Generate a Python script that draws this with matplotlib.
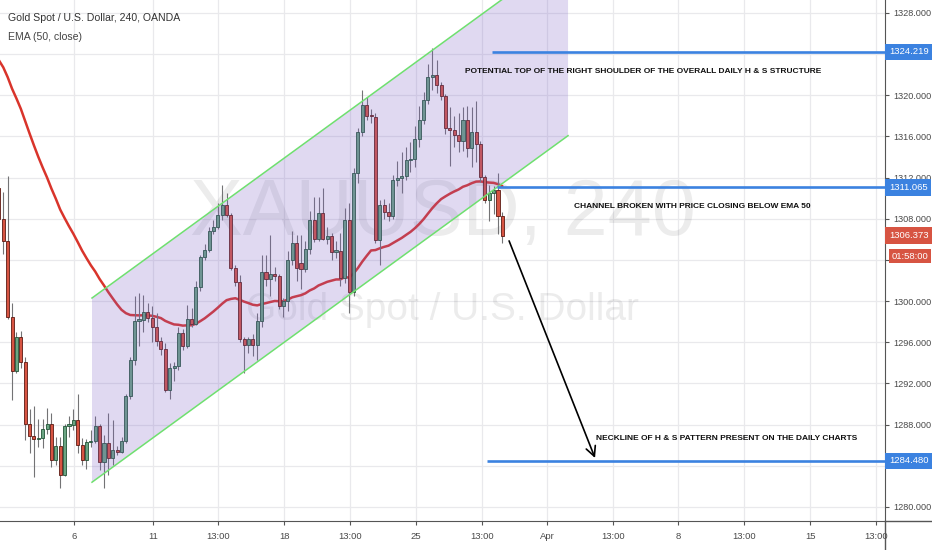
import numpy as np
import matplotlib
matplotlib.use('Agg')
import matplotlib.pyplot as plt
from matplotlib.patches import Polygon, FancyArrowPatch
from matplotlib.lines import Line2D
from matplotlib.transforms import blended_transform_factory
from matplotlib import font_manager

names = {f.name for f in font_manager.fontManager.ttflist}
NARROW = 'Liberation Sans Narrow' if 'Liberation Sans Narrow' in names else 'Liberation Sans'
plt.rcParams['font.family'] = [NARROW, 'DejaVu Sans']

# ---------------- data (4h candles, XAUUSD) ----------------
opens = [1311.0, 1308.0, 1305.8, 1298.5, 1293.2, 1296.5, 1294.1, 1288.1, 1286.9, 1286.6,
         1286.7, 1287.6, 1288.1, 1284.6, 1285.9, 1283.1, 1287.9, 1288.0, 1288.4, 1286.0,
         1284.6, 1286.3, 1286.4, 1287.9, 1284.4, 1286.2, 1284.8, 1285.5, 1285.3, 1286.4,
         1290.8, 1294.3, 1298.1, 1298.2, 1298.9, 1298.4, 1297.5, 1296.1, 1295.3, 1291.4,
         1293.5, 1293.7, 1296.9, 1295.6, 1298.3, 1297.8, 1301.4, 1304.3, 1305.0, 1306.8,
         1307.2, 1308.4, 1309.3, 1308.4, 1303.2, 1301.9, 1296.3, 1295.7, 1296.3, 1295.7,
         1298.1, 1302.8, 1302.1, 1302.6, 1302.4, 1299.5, 1300.0, 1304.0, 1305.6, 1303.7,
         1303.1, 1305.1, 1307.9, 1306.0, 1308.6, 1306.0, 1306.3, 1304.8, 1304.9, 1302.2,
         1307.9, 1300.9, 1312.4, 1316.4, 1319.1, 1318.0, 1317.9, 1305.9, 1309.3, 1308.7,
         1308.3, 1311.8, 1311.95, 1312.2, 1313.7, 1313.8, 1315.8, 1317.6, 1319.5, 1321.8,
         1322.0, 1321.0, 1319.9, 1316.8, 1316.6, 1316.1, 1315.6, 1317.6, 1314.85, 1316.4,
         1315.3, 1312.1, 1309.8, 1310.5, 1310.8, 1308.3]
highs = [1311.8, 1310.6, 1312.2, 1299.8, 1297.0, 1297.1, 1294.6, 1289.5, 1289.8, 1288.5,
         1288.5, 1289.6, 1289.1, 1286.8, 1286.8, 1288.1, 1288.8, 1289.5, 1291.0, 1286.7,
         1286.6, 1287.5, 1288.8, 1288.1, 1287.0, 1289.1, 1288.4, 1285.9, 1286.8, 1291.0,
         1294.6, 1300.5, 1300.8, 1300.6, 1299.8, 1299.5, 1298.8, 1296.5, 1295.9, 1294.0,
         1294.1, 1297.5, 1297.3, 1299.6, 1299.3, 1302.0, 1304.5, 1305.5, 1307.2, 1307.9,
         1309.5, 1311.3, 1310.5, 1308.6, 1303.5, 1302.5, 1296.5, 1296.5, 1296.8, 1298.8,
         1304.5, 1304.5, 1306.4, 1303.3, 1302.6, 1300.3, 1304.9, 1306.8, 1306.4, 1306.4,
         1305.8, 1308.8, 1310.1, 1310.1, 1311.0, 1307.2, 1306.6, 1305.8, 1306.6, 1309.0,
         1309.5, 1312.9, 1316.8, 1320.5, 1319.8, 1318.7, 1318.3, 1309.8, 1309.9, 1309.5,
         1312.3, 1313.6, 1314.5, 1315.0, 1315.5, 1317.0, 1319.0, 1320.3, 1323.0, 1324.6,
         1323.4, 1321.3, 1320.1, 1318.9, 1318.0, 1318.3, 1318.9, 1319.0, 1318.9, 1319.4,
         1315.6, 1312.3, 1311.3, 1311.2, 1312.4, 1308.7]
lows = [1306.0, 1304.6, 1298.3, 1290.4, 1293.0, 1293.5, 1286.5, 1285.2, 1282.9, 1285.8,
        1285.7, 1287.1, 1283.9, 1284.1, 1281.8, 1283.0, 1286.8, 1287.5, 1285.2, 1284.1,
        1283.7, 1285.8, 1286.2, 1283.6, 1281.8, 1283.1, 1284.1, 1285.0, 1285.2, 1286.2,
        1290.5, 1293.8, 1295.6, 1297.0, 1298.0, 1296.0, 1295.6, 1294.8, 1291.2, 1290.5,
        1292.2, 1293.3, 1295.2, 1295.4, 1297.5, 1297.7, 1301.0, 1304.0, 1304.8, 1306.5,
        1307.0, 1307.9, 1308.2, 1303.0, 1301.5, 1296.0, 1293.0, 1295.0, 1294.7, 1294.3,
        1297.5, 1301.5, 1300.5, 1302.0, 1299.2, 1298.5, 1299.0, 1303.5, 1302.0, 1301.2,
        1302.8, 1304.6, 1305.7, 1305.8, 1305.9, 1305.5, 1304.0, 1304.2, 1301.5, 1301.8,
        1298.8, 1300.5, 1311.5, 1316.0, 1317.6, 1317.3, 1305.6, 1303.5, 1308.0, 1307.8,
        1308.0, 1311.2, 1310.5, 1311.8, 1312.5, 1313.0, 1315.0, 1317.2, 1319.2, 1320.5,
        1320.2, 1319.5, 1316.2, 1313.1, 1315.0, 1314.5, 1314.6, 1314.0, 1313.0, 1313.5,
        1311.6, 1309.5, 1307.8, 1308.5, 1306.5, 1305.6]
closes = [1308.0, 1305.8, 1298.5, 1293.2, 1296.5, 1294.1, 1288.1, 1286.9, 1286.6, 1286.7,
          1287.6, 1288.1, 1284.6, 1285.9, 1283.1, 1287.9, 1288.0, 1288.4, 1286.0, 1284.6,
          1286.3, 1286.4, 1287.9, 1284.4, 1286.2, 1284.8, 1285.5, 1285.3, 1286.4, 1290.8,
          1294.3, 1298.1, 1298.2, 1298.9, 1298.4, 1297.5, 1296.1, 1295.3, 1291.4, 1293.5,
          1293.7, 1296.9, 1295.6, 1298.3, 1297.8, 1301.4, 1304.3, 1305.0, 1306.8, 1307.2,
          1308.4, 1309.3, 1308.4, 1303.2, 1301.9, 1296.3, 1295.7, 1296.3, 1295.7, 1298.1,
          1302.8, 1302.1, 1302.6, 1302.4, 1299.5, 1300.0, 1304.0, 1305.6, 1303.2, 1303.1,
          1305.1, 1307.9, 1306.0, 1308.6, 1306.0, 1306.3, 1304.8, 1304.9, 1302.2, 1307.9,
          1300.9, 1312.4, 1316.4, 1319.1, 1318.0, 1317.9, 1305.9, 1309.3, 1308.7, 1308.3,
          1311.8, 1311.95, 1312.2, 1313.7, 1313.8, 1315.8, 1317.6, 1319.5, 1321.8, 1322.0,
          1321.0, 1319.9, 1316.8, 1316.6, 1316.1, 1315.6, 1317.6, 1314.85, 1316.4, 1315.3,
          1312.1, 1309.8, 1310.5, 1310.8, 1308.3, 1306.373]
ema_period = 50
ema_start = 1323.4          # EMA value at the first (partially visible) bar

x_tick_pos = [17.2, 35.2, 50.1, 65.2, 80.3, 95.3, 110.3, 125.2, 140.2, 155.2, 170.2, 185.3, 200.3]
x_tick_labels = ['6', '11', '13:00', '18', '13:00', '25', '13:00', 'Apr', '13:00', '8', '13:00', '15', '13:00']
y_ticks = list(range(1280, 1329, 4))

# drawings
channel_x = [21.26, 130.0]
channel_top_start = 1300.3
channel_bot_start = 1282.4
channel_slope = 0.3097      # price per bar
h_levels = [1324.219, 1311.065, 1284.480]
h_starts = [112.6, 113.8, 111.5]
arrow_from = (116.3, 1306.1)
arrow_to = (136.4, 1284.5)
last_price = 1306.373
countdown = '01:58:00'
notes = [
    (106.5, 1322.36, 'POTENTIAL TOP OF THE RIGHT SHOULDER OF THE OVERALL DAILY H & S STRUCTURE'),
    (131.3, 1309.15, 'CHANNEL BROKEN WITH PRICE CLOSING BELOW EMA 50'),
    (136.3, 1286.6, 'NECKLINE OF H & S PATTERN PRESENT ON THE DAILY CHARTS'),
]

# ---------------- figure ----------------
W, H = 932, 550
fig = plt.figure(figsize=(W / 100, H / 100), dpi=100)
fig.patch.set_facecolor('white')
ax = fig.add_axes([0, 29 / H, 885 / W, 521 / H])
ax.set_facecolor('white')
ax.set_xlim(0.246, 202.4)
ax.set_ylim(1278.63, 1329.26)

o = np.array(opens); h = np.array(highs); l = np.array(lows); c = np.array(closes)
x = np.arange(len(o))

# grid
for t in x_tick_pos:
    ax.axvline(t, color='#e9e9ec', lw=0.9, zorder=0)
for t in y_ticks:
    ax.axhline(t, color='#e9e9ec', lw=0.9, zorder=0)

# watermark
ax.text(0.5, 0.588, 'XAUUSD, 240', transform=ax.transAxes, ha='center', va='center',
        fontsize=57, color='#000000', alpha=0.075, zorder=0.5)
ax.text(0.5, 0.405, 'Gold Spot / U.S. Dollar', transform=ax.transAxes, ha='center', va='center',
        fontsize=28, color='#000000', alpha=0.075, zorder=0.5)

# EMA 50 computed from closes
ema = np.empty(len(c))
ema[0] = ema_start
alpha = 2.0 / (ema_period + 1)
for i in range(1, len(c)):
    ema[i] = ema[i - 1] + alpha * (c[i] - ema[i - 1])
ax.plot(x, ema, color='#d9342b', lw=1.8, zorder=2, solid_capstyle='round')

# candles
up = c >= o
ax.vlines(x, l, h, color='#737375', lw=0.8, zorder=3)
body = np.where(np.abs(c - o) < 0.12, 0.12, c - o)
ax.bar(x[up], body[up], bottom=o[up], width=0.7, color='#6ba583', edgecolor='#225437', lw=0.6, zorder=4)
ax.bar(x[~up], body[~up], bottom=o[~up], width=0.7, color='#d75442', edgecolor='#5b1a13', lw=0.6, zorder=4)

# parallel channel
x0, x1 = channel_x
dx = x1 - x0
t0, b0 = channel_top_start, channel_bot_start
t1, b1 = t0 + channel_slope * dx, b0 + channel_slope * dx
ax.add_patch(Polygon([(x0, t0), (x1, t1), (x1, b1), (x0, b0)], closed=True,
                     facecolor='#7e62c8', alpha=0.24, edgecolor='none', zorder=5))
ax.plot([x0, x1], [t0, t1], color='#6fe06f', lw=1.1, zorder=6)
ax.plot([x0, x1], [b0, b1], color='#6fe06f', lw=1.1, zorder=6)

# horizontal levels
for lv, st in zip(h_levels, h_starts):
    ax.plot([st, 203], [lv, lv], color='#3b82e0', lw=1.9, zorder=6, solid_capstyle='butt')

# arrow
ax.add_patch(FancyArrowPatch(arrow_from, arrow_to, arrowstyle='->,head_length=0.7,head_width=0.35',
                             mutation_scale=10, lw=1.2, color='black', zorder=7))

for nx, ny, txt in notes:
    ax.text(nx, ny, txt, ha='left', va='center', fontsize=6.0, fontweight='bold', color='#111111', zorder=8)

# axes styling
for s in ['top', 'left']:
    ax.spines[s].set_visible(False)
ax.spines['right'].set_color('#555555')
ax.spines['bottom'].set_color('#555555')
ax.yaxis.tick_right()
ax.set_yticks(y_ticks)
ax.set_yticklabels([f'{v:.3f}' for v in y_ticks])
ax.set_xticks(x_tick_pos)
ax.set_xticklabels(x_tick_labels)
ax.tick_params(axis='y', direction='out', length=3, width=0.8, colors='#555555', labelsize=6.6,
               labelcolor='#4a4a4a', pad=3)
ax.tick_params(axis='x', direction='out', length=3, width=0.8, colors='#555555', labelsize=6.8,
               labelcolor='#4a4a4a', pad=5)

# price label boxes on the right scale
tr = blended_transform_factory(ax.transAxes, ax.transData)
for lv in h_levels:
    ax.text(1.0045, lv, f'{lv:.3f}', transform=tr, ha='left', va='center', fontsize=6.8, color='white',
            zorder=20, clip_on=False,
            bbox=dict(boxstyle='square,pad=0.4', fc='#3b82e0', ec='none'))
ax.text(1.0045, last_price, f'{last_price:.3f}', transform=tr, ha='left', va='center', fontsize=6.8,
        color='white', zorder=20, clip_on=False,
        bbox=dict(boxstyle='square,pad=0.4', fc='#d75442', ec='none'))
ax.text(1.0282, 1304.38, countdown, transform=tr, ha='center', va='center', fontsize=6.8,
        color='white', zorder=20, clip_on=False,
        bbox=dict(boxstyle='square,pad=0.3', fc='#d75442', ec='none'))

# extend axis lines across the corner
fig.add_artist(Line2D([885 / W, 1], [29 / H, 29 / H], color='#555555', lw=1))
fig.add_artist(Line2D([885 / W, 885 / W], [0, 29 / H], color='#555555', lw=1))

# header
fig.text(8 / W, 1 - 18 / H, 'Gold Spot / U.S. Dollar, 240, OANDA', ha='left', va='center',
         fontsize=7.6, color='#333333')
fig.text(8 / W, 1 - 37 / H, 'EMA (50, close)', ha='left', va='center', fontsize=7.6, color='#444444')

fig.savefig('out.png', dpi=100, facecolor='white')
